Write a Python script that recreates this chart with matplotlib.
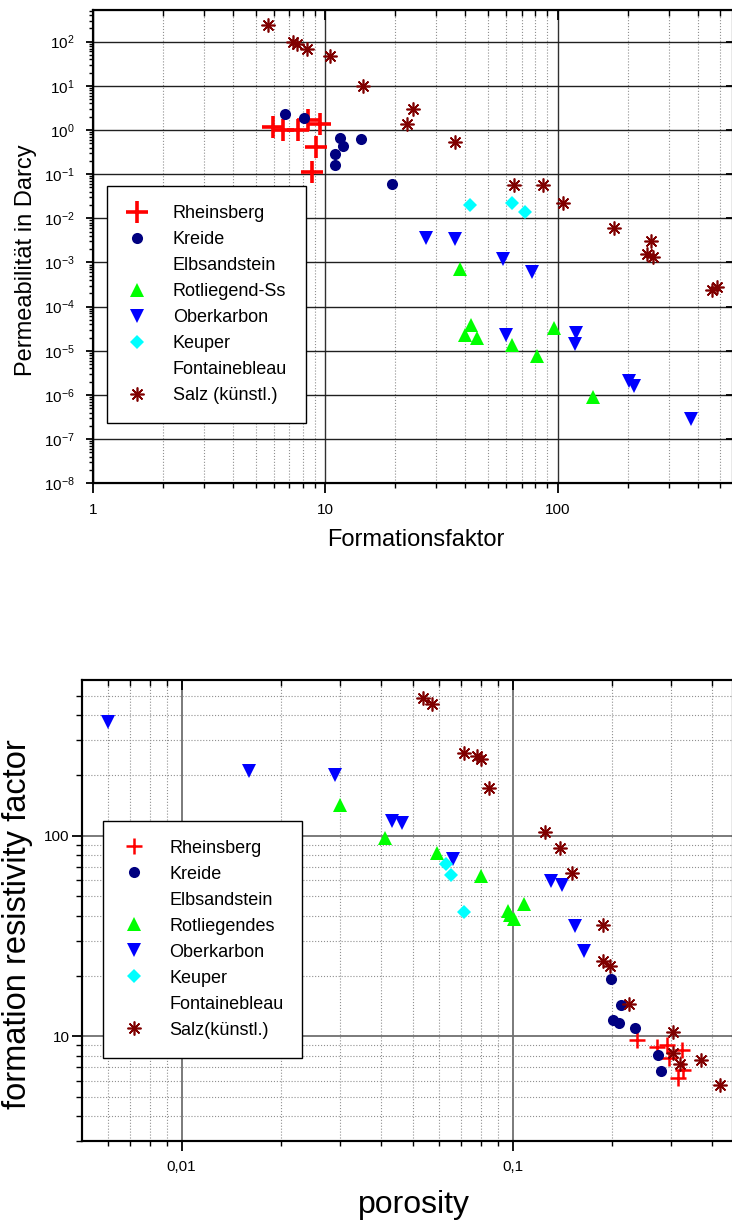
import matplotlib
matplotlib.use("Agg")
import matplotlib.pyplot as plt
from matplotlib.ticker import LogLocator, FuncFormatter, NullLocator, LogFormatterSciNotation, NullFormatter
import numpy as np

plt.rcParams['font.family'] = ['Liberation Sans', 'DejaVu Sans']
plt.rcParams['mathtext.fontset'] = 'custom'
plt.rcParams['mathtext.rm'] = 'Liberation Sans'
plt.rcParams['axes.unicode_minus'] = False

# ---------------- top chart: permeability vs formation factor ----------------
series_names_top = ["Rheinsberg", "Kreide", "Elbsandstein", "Rotliegend-Ss",
                    "Oberkarbon", "Keuper", "Fontainebleau", "Salz (künstl.)"]

rh_F = [5.96, 6.58, 7.64, 8.43, 9.47, 9.08, 8.77]
rh_k = [1.19, 1.0, 1.0, 1.68, 1.35, 0.406, 0.114]

kr_F = [6.70, 8.11, 11.54, 11.85, 10.98, 10.98, 14.2, 19.3]
kr_k = [2.26, 1.9, 0.67, 0.44, 0.286, 0.16, 0.626, 0.059]

elb_F = []
elb_k = []

rot_F = [37.9, 42.1, 39.9, 45.0, 63.2, 80.9, 96.1, 141]
rot_k = [7.0e-4, 3.9e-5, 2.3e-5, 1.94e-5, 1.32e-5, 7.7e-6, 3.26e-5, 9.2e-7]

ober_F = [27.0, 36.0, 57.8, 77.6, 59.6, 119.5, 118.8, 203, 212, 373]
ober_k = [3.66e-3, 3.4e-3, 1.19e-3, 6.2e-4, 2.3e-5, 2.5e-5, 1.44e-5, 2.1e-6, 1.6e-6, 2.85e-7]

keu_F = [41.8, 63.6, 72.1]
keu_k = [0.0198, 0.022, 0.0137]

fon_F = []
fon_k = []

salz_F = [5.66, 7.27, 7.52, 8.3, 10.46, 14.5, 23.9, 22.5, 36.0, 64.7, 86.5,
          104.7, 174.7, 251, 242, 257, 458, 484]
salz_k = [240, 100, 91, 70, 47, 10, 3.0, 1.37, 0.53, 0.056, 0.056,
          0.022, 0.0062, 0.0031, 0.00157, 0.00136, 0.00024, 0.00028]

# ---------------- bottom chart: formation factor vs porosity ----------------
series_names_bot = ["Rheinsberg", "Kreide", "Elbsandstein", "Rotliegendes",
                    "Oberkarbon", "Keuper", "Fontainebleau", "Salz(künstl.)"]

rh_phi = [0.237, 0.272, 0.292, 0.297, 0.324, 0.326, 0.316]
rh_FF = [9.55, 8.85, 9.09, 7.8, 8.5, 6.82, 6.2]

kr_phi = [0.198, 0.213, 0.2013, 0.210, 0.234, 0.275, 0.2797]
kr_FF = [19.3, 14.3, 12.0, 11.6, 11.0, 8.1, 6.74]

elb_phi = []
elb_FF = []

rot_phi = [0.0301, 0.041, 0.0589, 0.0802, 0.0966, 0.0981, 0.1007, 0.108]
rot_FF = [142.6, 97.4, 82, 63.2, 42.3, 40.2, 38.5, 45.5]

ober_phi = [0.0060, 0.016, 0.029, 0.0431, 0.0462, 0.0662, 0.131, 0.1406, 0.154, 0.164]
ober_FF = [371, 211, 200, 118, 116, 76.6, 59.2, 57, 35.6, 26.5]

keu_phi = [0.0630, 0.0651, 0.0711]
keu_FF = [72.3, 64, 41.8]

fon_phi = []
fon_FF = []

salz_phi = [0.0537, 0.0572, 0.0714, 0.0778, 0.080, 0.085, 0.125, 0.139, 0.1507,
            0.188, 0.188, 0.197, 0.225, 0.304, 0.304, 0.3195, 0.3707, 0.423]
salz_FF = [485, 455, 258, 250, 242, 174, 104, 87, 65,
           35.7, 23.7, 22.5, 14.5, 10.5, 8.26, 7.24, 7.6, 5.68]

RED = '#FF0000'
NAVY = '#000080'
GREEN = '#00FF00'
BLUE = '#0000FF'
CYAN = '#00FFFF'
MAROON = '#800000'
STAR = (8, 2, 0)

W, H = 732, 1220
fig = plt.figure(figsize=(W / 100, H / 100), dpi=100)

def frac(l, t, r, b):
    return [l / W, 1 - b / H, (r - l) / W, (b - t) / H]

def style_axes(ax, xlim, ylim, ylab_fmt, xlab_fmt, right_ticks, ylen, ypad):
    ax.set_xscale('log')
    ax.set_yscale('log')
    ax.set_xlim(*xlim)
    ax.set_ylim(*ylim)
    ax.xaxis.set_major_locator(LogLocator(base=10, numticks=30))
    ax.xaxis.set_minor_locator(LogLocator(base=10, subs=np.arange(2, 10), numticks=30))
    ax.yaxis.set_major_locator(LogLocator(base=10, numticks=30))
    ax.yaxis.set_minor_locator(LogLocator(base=10, subs=np.arange(2, 10), numticks=30))
    ax.xaxis.set_major_formatter(xlab_fmt)
    ax.yaxis.set_major_formatter(ylab_fmt)
    ax.xaxis.set_minor_formatter(NullFormatter())
    ax.yaxis.set_minor_formatter(NullFormatter())
    for s in ax.spines.values():
        s.set_linewidth(1.5)
    ax.tick_params(which='major', direction='out', length=7, width=1.3, labelsize=11)
    ax.tick_params(which='minor', direction='out', length=3.5, width=1.0)
    ax.tick_params(axis='x', which='major', pad=7)
    ax.tick_params(axis='y', which='major', length=ylen, pad=ypad)
    ax.tick_params(axis='y', which='minor', length=ylen * 0.6)
    # top ticks (inward)
    axt = ax.twiny()
    axt.set_xscale('log')
    axt.set_xlim(*xlim)
    axt.xaxis.set_major_locator(LogLocator(base=10, numticks=30))
    axt.xaxis.set_minor_locator(LogLocator(base=10, subs=np.arange(2, 10), numticks=30))
    axt.tick_params(which='major', direction='in', length=7, width=1.3, labeltop=False)
    axt.tick_params(which='minor', direction='in', length=4, width=1.0)
    for s in axt.spines.values():
        s.set_linewidth(1.5)
    if right_ticks:
        axr = ax.twinx()
        axr.set_yscale('log')
        axr.set_ylim(*ylim)
        axr.yaxis.set_major_locator(LogLocator(base=10, numticks=30))
        axr.yaxis.set_minor_locator(NullLocator())
        axr.tick_params(which='major', direction='in', length=5, width=1.3, labelright=False)

LEG_KW = dict(loc='upper left', fontsize=13, frameon=True, fancybox=False,
              edgecolor='black', framealpha=1, borderpad=1.05, labelspacing=0.5,
              handlelength=1.25, handletextpad=1.35, numpoints=1, borderaxespad=0)

# ================= TOP =================
ax1 = fig.add_axes(frac(93, 10, 733, 483.3))
ax1.set_axisbelow(True)
ax1.grid(which='major', axis='y', color='#202020', lw=1.0, ls='-')
ax1.grid(which='major', axis='x', color='#303030', lw=1.0, ls='-')
ax1.grid(which='minor', axis='x', color='#909090', lw=0.8, ls=':')

h = []
h += ax1.plot(rh_F, rh_k, ls='none', marker='+', ms=16, mew=2.6, color=RED, label=series_names_top[0])
h += ax1.plot(kr_F, kr_k, ls='none', marker='o', ms=8, mew=0, color=NAVY, label=series_names_top[1])
h += ax1.plot(elb_F, elb_k, ls='none', marker='none', label=series_names_top[2])
h += ax1.plot(rot_F, rot_k, ls='none', marker='^', ms=9.5, mew=0, color=GREEN, label=series_names_top[3])
h += ax1.plot(ober_F, ober_k, ls='none', marker='v', ms=9.5, mew=0, color=BLUE, label=series_names_top[4])
h += ax1.plot(keu_F, keu_k, ls='none', marker='D', ms=6.8, mew=0, color=CYAN, label=series_names_top[5])
h += ax1.plot(fon_F, fon_k, ls='none', marker='none', label=series_names_top[6])
h += ax1.plot(salz_F, salz_k, ls='none', marker=STAR, ms=10, mew=1.2, color=MAROON, label=series_names_top[7])

top_ylim = (1e-8, 522)
top_xlim = (1, 566)
fmt_top_x = FuncFormatter(lambda v, p: f"{v:g}")
style_axes(ax1, top_xlim, top_ylim, LogFormatterSciNotation(), fmt_top_x, True, 5, 8)
ax1.set_xlabel("Formationsfaktor", fontsize=17)
ax1.xaxis.set_label_coords(0.505, -0.097)
ax1.set_ylabel("Permeabilität in Darcy", fontsize=17)
ax1.yaxis.set_label_coords(-0.088, 0.471)

leg1 = ax1.legend(handles=h, bbox_to_anchor=(0.022, 0.628), **LEG_KW)
leg1.get_frame().set_linewidth(1.0)
leg1.set_zorder(10)

# ================= BOTTOM =================
ax2 = fig.add_axes(frac(82.3, 680, 733, 1141))
ax2.set_axisbelow(True)
ax2.grid(which='major', axis='both', color='#707070', lw=1.3, ls='-')
ax2.grid(which='minor', axis='both', color='#909090', lw=0.8, ls=':')

h2 = []
h2 += ax2.plot(rh_phi, rh_FF, ls='none', marker='+', ms=12, mew=1.8, color=RED, label=series_names_bot[0])
h2 += ax2.plot(kr_phi, kr_FF, ls='none', marker='o', ms=8, mew=0, color=NAVY, label=series_names_bot[1])
h2 += ax2.plot(elb_phi, elb_FF, ls='none', marker='none', label=series_names_bot[2])
h2 += ax2.plot(rot_phi, rot_FF, ls='none', marker='^', ms=9.5, mew=0, color=GREEN, label=series_names_bot[3])
h2 += ax2.plot(ober_phi, ober_FF, ls='none', marker='v', ms=9.5, mew=0, color=BLUE, label=series_names_bot[4])
h2 += ax2.plot(keu_phi, keu_FF, ls='none', marker='D', ms=6.8, mew=0, color=CYAN, label=series_names_bot[5])
h2 += ax2.plot(fon_phi, fon_FF, ls='none', marker='none', label=series_names_bot[6])
h2 += ax2.plot(salz_phi, salz_FF, ls='none', marker=STAR, ms=10, mew=1.2, color=MAROON, label=series_names_bot[7])

bot_xlim = (0.00501, 0.463)
bot_ylim = (3.0, 599)
fmt_bot_x = FuncFormatter(lambda v, p: f"{v:g}".replace('.', ','))
fmt_bot_y = FuncFormatter(lambda v, p: f"{v:g}")
style_axes(ax2, bot_xlim, bot_ylim, fmt_bot_y, fmt_bot_x, False, 7, 2)
ax2.set_xlabel("porosity", fontsize=23)
ax2.xaxis.set_label_coords(0.509, -0.106)
ax2.set_ylabel("formation resistivity factor", fontsize=23.5)
ax2.yaxis.set_label_coords(-0.075, 0.47)

leg2 = ax2.legend(handles=h2, bbox_to_anchor=(0.0323, 0.695), **LEG_KW)
leg2.get_frame().set_linewidth(1.0)
leg2.set_zorder(10)

fig.savefig("out.png", dpi=100)
